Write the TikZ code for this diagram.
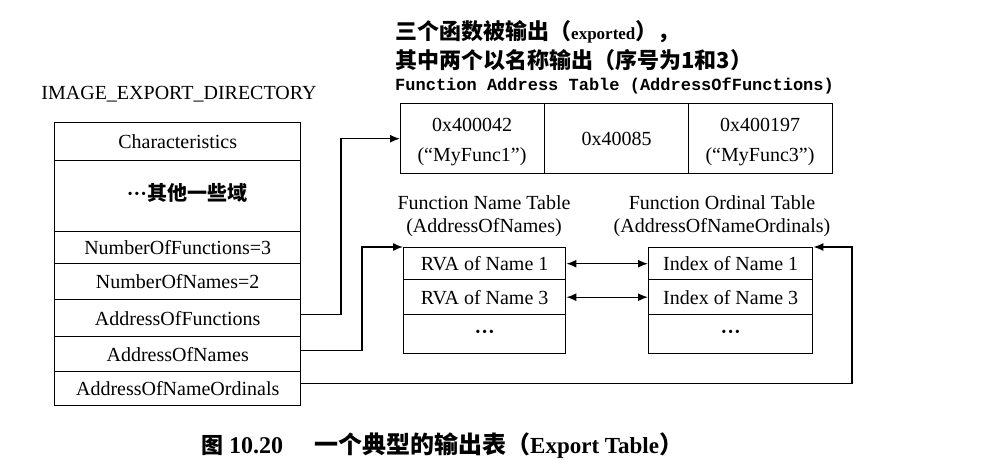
\documentclass[tikz,border=0pt]{standalone}
\usepackage{fontspec}
\setmainfont{Liberation Serif}
\newfontfamily\cjk{Noto Sans CJK SC}
\newfontfamily\monof{Liberation Mono}
\usetikzlibrary{arrows.meta}
\begin{document}
\begin{tikzpicture}[x=1pt,y=-1pt,
  cell/.style={draw, line width=1.4pt, anchor=north west, inner sep=0pt, font=\fontsize{20}{22}\selectfont},
  lbl/.style={inner sep=0pt, font=\fontsize{20}{23}\selectfont},
  conn/.style={line width=1.4pt},
  arr/.style={conn, -{Latex[length=10pt,width=8pt]}},
  darr/.style={conn, {Latex[length=10pt,width=8pt]}-{Latex[length=10pt,width=8pt]}},
  ann/.style={inner sep=0pt, anchor=west, font=\cjk\bfseries\fontsize{22}{24}\selectfont},
  capcjk/.style={inner sep=0pt, anchor=base west, font=\cjk\bfseries\fontsize{24}{26}\selectfont}
]
\fill[white] (0,0) rectangle (985,460);
\useasboundingbox (0,0) rectangle (985,460);

% IMAGE_EXPORT_DIRECTORY
\node[lbl] (ttl) at (179,94) {IMAGE\_EXPORT\_DIRECTORY};
\node[cell, minimum width=246pt, minimum height=38pt] (ch) at (54,122) {Characteristics};
\node[cell, minimum width=246pt, minimum height=71pt] (oth) at (54,160) {};
\node[lbl, font=\cjk\bfseries\fontsize{20}{22}\selectfont] (othtxt) at (187,193) {{\rmfamily ···}其他一些域};
\node[cell, minimum width=246pt, minimum height=32pt] (nof) at (54,231) {NumberOfFunctions=3};
\node[cell, minimum width=246pt, minimum height=36pt] (non) at (54,263) {NumberOfNames=2};
\node[cell, minimum width=246pt, minimum height=37pt] (aof) at (54,299) {AddressOfFunctions};
\node[cell, minimum width=246pt, minimum height=35pt] (aon) at (54,336) {AddressOfNames};
\node[cell, minimum width=246pt, minimum height=34pt] (aono) at (54,371) {AddressOfNameOrdinals};

% annotations
\node[ann] (ann1) at (395,32) {三个函数被输出（{\rmfamily\fontsize{17}{20}\selectfont exported}），};
\node[ann] (ann2) at (395,60) {其中两个以名称输出（序号为1和3）};
\node[inner sep=0pt, anchor=west, font=\monof\bfseries\fontsize{17}{20}\selectfont] (ann3) at (395,86) {Function Address Table (AddressOfFunctions)};

% Function Address Table
\node[cell, minimum width=144pt, minimum height=70pt] (fa1) at (400,103) {};
\node[cell, minimum width=144pt, minimum height=70pt] (fa2) at (544,103) {0x40085};
\node[cell, minimum width=144pt, minimum height=70pt] (fa3) at (688,103) {};
\node[lbl] (fa1a) at (472,125) {0x400042};
\node[lbl] (fa1b) at (472,157) {(“MyFunc1”)};
\node[lbl] (fa3a) at (760,125) {0x400197};
\node[lbl] (fa3b) at (760,157) {(“MyFunc3”)};

% Function Name Table
\node[lbl, align=center] (ntt) at (484,216) {Function Name Table\\(AddressOfNames)};
\node[cell, minimum width=162pt, minimum height=32pt] (nt1) at (403,247) {RVA of Name 1};
\node[cell, minimum width=162pt, minimum height=35pt] (nt2) at (403,279) {RVA of Name 3};
\node[cell, minimum width=162pt, minimum height=39pt] (nt3) at (403,314) {\textbf{···}};

% Function Ordinal Table
\node[lbl, align=center] (ott) at (722,216) {Function Ordinal Table\\(AddressOfNameOrdinals)};
\node[cell, minimum width=164pt, minimum height=32pt] (ot1) at (648,247) {Index of Name 1};
\node[cell, minimum width=164pt, minimum height=35pt] (ot2) at (648,279) {Index of Name 3};
\node[cell, minimum width=164pt, minimum height=39pt] (ot3) at (648,314) {\textbf{···}};

% connectors
\coordinate (v1) at (341,0);
\coordinate (v2) at (362,0);
\coordinate (v3) at (852,0);
\coordinate (s1) at ([yshift=4pt]aof.east);
\coordinate (s2) at ([yshift=4pt]aon.east);
\coordinate (s3) at ([yshift=5pt]aono.east);
\draw[arr] (s1) -- (s1 -| v1) -- (v1 |- fa1.west) -- (fa1.west);
\draw[arr] (s2) -- (s2 -| v2) -- (v2 |- nt1.north west) -- (nt1.north west);
\draw[arr] (s3) -- (s3 -| v3) -- (v3 |- ot1.north east) -- (ot1.north east);
\draw[darr] (nt1.east) -- (ot1.west);
\draw[darr] (nt2.east) -- (ot2.west);

% caption
\node[capcjk, font=\cjk\bfseries\fontsize{22}{24}\selectfont] (cap1) at (201,453) {图};
\node[inner sep=0pt, anchor=base west, font=\bfseries\fontsize{24}{26}\selectfont] (cap2) at (229,453) {10.20};
\node[capcjk] (cap3) at (314,453) {一个典型的输出表（{\rmfamily\fontsize{23}{25}\selectfont Export Table}）};
\end{tikzpicture}
\end{document}
